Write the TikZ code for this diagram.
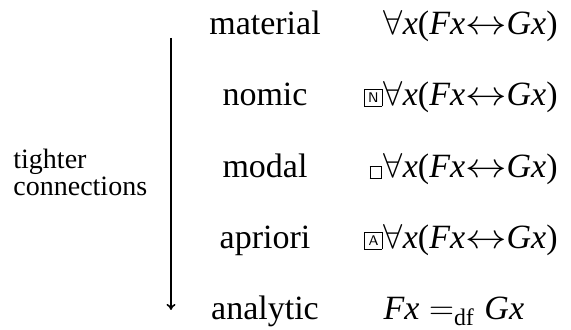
\documentclass[tikz,border=0pt]{standalone}
\usepackage{amsmath}
\usepackage{graphicx}
\usepackage{fontspec}
\setmainfont{Liberation Serif}
\usetikzlibrary{arrows.meta}
% boxed letter operators and the plain box
\newcommand{\opbox}[1]{\mbox{\setlength{\fboxsep}{0pt}\setlength{\fboxrule}{0.4pt}%
  \fbox{\makebox[8.2pt][c]{\rule{0pt}{8.2pt}\raisebox{1.6pt}{\fontsize{7}{7}\sffamily #1}}}}\hspace{0.6pt}}
\newcommand{\nbox}{\mbox{\setlength{\fboxsep}{0pt}\setlength{\fboxrule}{0.4pt}%
  \fbox{\rule{0pt}{5.4pt}\hspace{5.4pt}}}\hspace{0.8pt}}
\newcommand{\bicond}{$\forall$\textit{x}(\textit{Fx}\scalebox{1.2}[1]{$\leftrightarrow$}\textit{Gx})}

\begin{document}
\begin{tikzpicture}[
    x=0.5pt, y=-0.5pt,
    lvl/.style={anchor=base, inner sep=0pt, font=\fontsize{17}{20}\selectfont},
    fml/.style={anchor=base east, inner sep=0pt, font=\fontsize{17}{20}\selectfont},
    side/.style={anchor=west, inner sep=0pt, align=left, font=\fontsize{14}{13.5}\selectfont},
    conn/.style={-{To[length=3pt,width=4.5pt]}, line width=0.8pt}
  ]
    \useasboundingbox (0,0) rectangle (571,330);

    \node[lvl] (material) at (265,35) {material};
    \node[lvl] (nomic) at (265,106) {nomic};
    \node[lvl] (modal) at (265,178) {modal};
    \node[lvl] (apriori) at (265,249) {apriori};
    \node[lvl] (analytic) at (265,320) {analytic};

    \node[fml] (fmaterial) at (558,35) {\bicond};
    \node[fml] (fnomic) at (558,106) {\opbox{N}\bicond};
    \node[fml] (fmodal) at (558,178) {\nbox\bicond};
    \node[fml] (fapriori) at (558,249) {\opbox{A}\bicond};
    \node[fml, anchor=base west] (fanalytic) at (fmaterial.base west |- analytic.base)
      {$\textit{Fx} =_{\text{df}} \textit{Gx}$};

    \coordinate (top) at (171,38);
    \coordinate (bot) at (171,310);
    \draw[conn] (top) -- (bot);

    \node[side] (tighter) at (13,172) {tighter\\connections};
  \end{tikzpicture}
\end{document}
